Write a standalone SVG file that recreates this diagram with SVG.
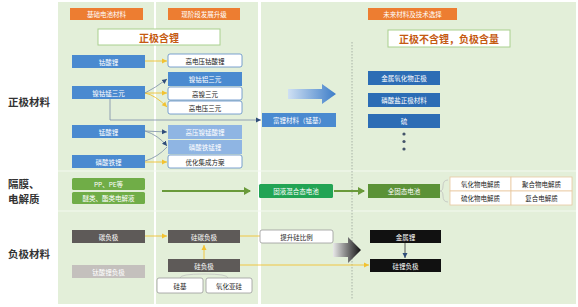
<svg xmlns="http://www.w3.org/2000/svg" width="578" height="307" viewBox="0 0 578 307">
<defs>
<style>
text{font-family:"Noto Sans CJK SC","Noto Sans",sans-serif;text-anchor:middle;dominant-baseline:central}
.t{font-size:6.5px;fill:#fff}
.d{font-size:6.5px;fill:#222}
.lab{font-size:10.5px;font-weight:bold;fill:#333;text-anchor:start}
.hd{fill:#ed7d31}
.b1{fill:#4a8ad0}
.b3{fill:#2c6db5}
.lb{fill:#8fb5e3}
.w{fill:#fff;stroke:#5b8ac7;stroke-width:0.8}
.wo{fill:#fff;stroke:#e8c9a0;stroke-width:0.8}
.wg{fill:#fff;stroke:#999;stroke-width:0.8}
.dg{fill:#5e5a58}
.bk{fill:#111}
.ttl{fill:#fff;stroke:#a9d08e;stroke-width:1}
.tt{font-size:10px;font-weight:bold;fill:#c55a11}
.y{stroke:#f2c231;stroke-width:0.9;fill:none}
.g{stroke:#7b8ea8;stroke-width:0.8;fill:none}
</style>
<marker id="ay" markerWidth="6" markerHeight="6" refX="5" refY="3" orient="auto" markerUnits="userSpaceOnUse"><path d="M0,0.5 L5,3 L0,5.5z" fill="#f2c231"/></marker>
<marker id="ab" markerWidth="6" markerHeight="6" refX="5" refY="3" orient="auto" markerUnits="userSpaceOnUse"><path d="M0,0.5 L5,3 L0,5.5z" fill="#2f4d7a"/></marker>
<marker id="ag" markerWidth="8" markerHeight="8" refX="6" refY="4" orient="auto" markerUnits="userSpaceOnUse"><path d="M0,0 L7,4 L0,8z" fill="#6a9a3a"/></marker>
<linearGradient id="blueArr" x1="0" y1="0" x2="1" y2="0"><stop offset="0" stop-color="#cfe0f3"/><stop offset="1" stop-color="#3d7dc8"/></linearGradient>
<linearGradient id="blkArr" x1="0" y1="0" x2="1" y2="0"><stop offset="0" stop-color="#e8e8e8"/><stop offset="1" stop-color="#111"/></linearGradient>
</defs>
<rect width="578" height="307" fill="#fff"/>
<g id="panels">
<rect x="58" y="2" width="96" height="302" fill="#e3efd9"/>
<rect x="156" y="2" width="102" height="302" fill="#e3efd9"/>
<rect x="261" y="2" width="315" height="302" fill="#e3efd9"/>
<line x1="58" y1="171" x2="576" y2="171" stroke="#f4f9f0" stroke-width="1.2"/>
<line x1="58" y1="211" x2="576" y2="211" stroke="#f4f9f0" stroke-width="1.2"/>
<line x1="352" y1="42" x2="352" y2="300" stroke="#9aa39a" stroke-width="0.8" stroke-dasharray="1.5,1.5"/>
</g>
<g id="labels">
<text class="lab" x="8" y="101">正极材料</text>
<text class="lab" x="8" y="183">隔膜、</text>
<text class="lab" x="8" y="198.5">电解质</text>
<text class="lab" x="8" y="253">负极材料</text>
</g>
<g id="headers">
<rect class="hd" x="70" y="8" width="73" height="12"/><text class="t" x="106.5" y="14">基础电池材料</text>
<rect class="hd" x="168" y="8" width="72" height="12"/><text class="t" x="204" y="14">现阶段发展升级</text>
<rect class="hd" x="368" y="8" width="89" height="12"/><text class="t" x="412.5" y="14">未来材料及技术选择</text>
<rect class="ttl" x="98" y="29" width="122" height="16"/><text class="tt" x="159" y="37">正极含锂</text>
<rect class="ttl" x="388" y="30" width="122" height="17"/><text class="tt" x="449" y="38.5">正极不含锂，负极含量</text>
</g>
<g id="connectors">
<line class="y" x1="145" y1="61" x2="167" y2="61" marker-end="url(#ay)"/>
<path class="y" d="M145,93 L167,93" marker-end="url(#ay)"/>
<path class="y" d="M145,93 Q155,95 167,107" marker-end="url(#ay)"/>
<path d="M145,93 Q155,88 167,79" stroke="#7b8ea8" stroke-width="0.8" fill="none" marker-end="url(#ab)"/>
<path class="g" d="M110,99 V120 H261" marker-end="url(#ab)"/>
<path class="g" d="M145,131 L167,132" marker-end="url(#ab)"/>
<path class="g" d="M145,131 Q158,135 167,146" marker-end="url(#ab)"/>
<path class="g" d="M145,161 Q158,157 167,147"/>
<line class="y" x1="145" y1="162" x2="167" y2="162" marker-end="url(#ay)"/>
<line x1="162" y1="191" x2="250" y2="191" stroke="#6a9a3a" stroke-width="2" marker-end="url(#ag)"/>
<line x1="334" y1="191" x2="364" y2="191" stroke="#6a9a3a" stroke-width="2" marker-end="url(#ag)"/>
<path d="M448,180 Q443,180 443,186 Q443,191 440,191 Q443,191 443,196 Q443,202 448,202" fill="none" stroke="#bbb" stroke-width="0.7"/>
<line class="y" x1="145" y1="236" x2="167" y2="236" marker-end="url(#ay)"/>
<line class="y" x1="240" y1="236" x2="260" y2="236"/>
<line class="y" x1="204" y1="259" x2="204" y2="245" marker-end="url(#ay)"/>
<line class="y" x1="240" y1="265" x2="369" y2="265" marker-end="url(#ay)"/>
<path d="M180,278 Q180,274 204,274 Q228,274 228,278" fill="none" stroke="#bbb" stroke-width="0.7"/>
<line x1="405" y1="243" x2="405" y2="258" stroke="#333" stroke-width="0.8" marker-end="url(#ab)"/>
<path d="M288,89 H322 V84 L336,94 L322,104 V99 H288z" fill="url(#blueArr)"/>
<path d="M333,243 H348 V237 L361,250 L348,263 V257 H333z" fill="url(#blkArr)"/>
<circle cx="404" cy="134" r="1.6" fill="#44546a"/>
<circle cx="404" cy="141.5" r="1.6" fill="#44546a"/>
<circle cx="404" cy="149" r="1.6" fill="#44546a"/>
</g>
<g id="n-lco"><rect class="b1" x="72" y="55" width="73" height="13"/><text class="t" x="108.5" y="61.5">钴酸锂</text></g>
<g id="n-ncm"><rect class="b1" x="72" y="86" width="73" height="13"/><text class="t" x="108.5" y="92.5">镍钴锰三元</text></g>
<g id="n-lmo"><rect class="b1" x="72" y="125" width="73" height="13"/><text class="t" x="108.5" y="131.5">锰酸锂</text></g>
<g id="n-lfp"><rect class="b1" x="72" y="155" width="73" height="13"/><text class="t" x="108.5" y="161.5">磷酸铁锂</text></g>
<g id="n-hvlco"><rect class="w" x="168" y="54" width="74" height="13" rx="2"/><text class="d" x="205" y="60.5">高电压钴酸锂</text></g>
<g id="n-nca"><rect class="b1" x="168" y="72" width="74" height="14"/><text class="t" x="205" y="79">镍钴铝三元</text></g>
<g id="n-hni"><rect class="w" x="168" y="87" width="74" height="13" rx="2"/><text class="d" x="205" y="93.5">高镍三元</text></g>
<g id="n-hv3"><rect class="w" x="168" y="101" width="74" height="13" rx="2"/><text class="d" x="205" y="107.5">高电压三元</text></g>
<g id="n-lnmo"><rect class="lb" x="168" y="125" width="74" height="14"/><text class="t" x="205" y="132">高压镍锰酸锂</text></g>
<g id="n-lmfp"><rect class="lb" x="168" y="140" width="74" height="14"/><text class="t" x="205" y="147">磷酸铁锰锂</text></g>
<g id="n-opt"><rect class="w" x="168" y="155" width="74" height="13" rx="2"/><text class="d" x="205" y="161.5">优化集成方案</text></g>
<g id="n-lr"><rect class="b1" x="262" y="113" width="74" height="14"/><text class="t" x="299" y="120">富锂材料（锰基）</text></g>
<g id="n-mo"><rect class="b3" x="368" y="71" width="72" height="14"/><text class="t" x="404" y="78">金属氧化物正极</text></g>
<g id="n-po"><rect class="b3" x="368" y="93" width="72" height="14"/><text class="t" x="404" y="100">磷酸盐正极材料</text></g>
<g id="n-s"><rect class="b3" x="368" y="114" width="72" height="14"/><text class="t" x="404" y="121">硫</text></g>
<g id="n-pp"><rect fill="#70ad47" x="72" y="178" width="73" height="12" rx="1.5"/><text class="t" x="108.5" y="184">PP、PE等</text></g>
<g id="n-el"><rect fill="#70ad47" x="72" y="192" width="73" height="12" rx="1.5"/><text class="t" x="108.5" y="198">醚类、酯类电解液</text></g>
<g id="n-semi"><rect fill="#22a454" x="259" y="184" width="74" height="14" rx="1.5"/><text class="t" x="296" y="191">固液混合态电池</text></g>
<g id="n-ss"><rect fill="#5b9237" x="368" y="184" width="72" height="14"/><text class="t" x="404" y="191">全固态电池</text></g>
<g id="n-table">
<rect class="wo" x="450" y="177" width="61" height="14"/><text class="d" x="480.5" y="184">氧化物电解质</text>
<rect class="wo" x="511" y="177" width="61" height="14"/><text class="d" x="541.5" y="184">聚合物电解质</text>
<rect class="wo" x="450" y="191" width="61" height="14"/><text class="d" x="480.5" y="198">硫化物电解质</text>
<rect class="wo" x="511" y="191" width="61" height="14"/><text class="d" x="541.5" y="198">复合电解质</text>
</g>
<g id="n-c"><rect class="dg" x="72" y="230" width="73" height="13"/><text class="t" x="108.5" y="236.5">碳负极</text></g>
<g id="n-lto"><rect fill="#c4c0bd" x="72" y="265" width="73" height="13"/><text class="t" x="108.5" y="271.5">钛酸锂负极</text></g>
<g id="n-sic"><rect class="dg" x="168" y="230" width="72" height="13"/><text class="t" x="204" y="236.5">硅碳负极</text></g>
<g id="n-up"><rect class="wg" x="260" y="230" width="73" height="13" rx="2"/><text class="d" x="296.5" y="236.5">提升硅比例</text></g>
<g id="n-si"><rect class="dg" x="168" y="259" width="72" height="13"/><text class="t" x="204" y="265.5">硅负极</text></g>
<g id="n-sib"><rect class="wg" x="157" y="278" width="46" height="15" rx="2"/><text class="d" x="180" y="285.5">硅基</text></g>
<g id="n-sio"><rect class="wg" x="206" y="278" width="46" height="15" rx="2"/><text class="d" x="229" y="285.5">氧化亚硅</text></g>
<g id="n-li"><rect class="bk" x="370" y="230" width="71" height="13"/><text class="t" x="405.5" y="236.5">金属锂</text></g>
<g id="n-sili"><rect class="bk" x="370" y="259" width="71" height="13"/><text class="t" x="405.5" y="265.5">硅锂负极</text></g>
</svg>
